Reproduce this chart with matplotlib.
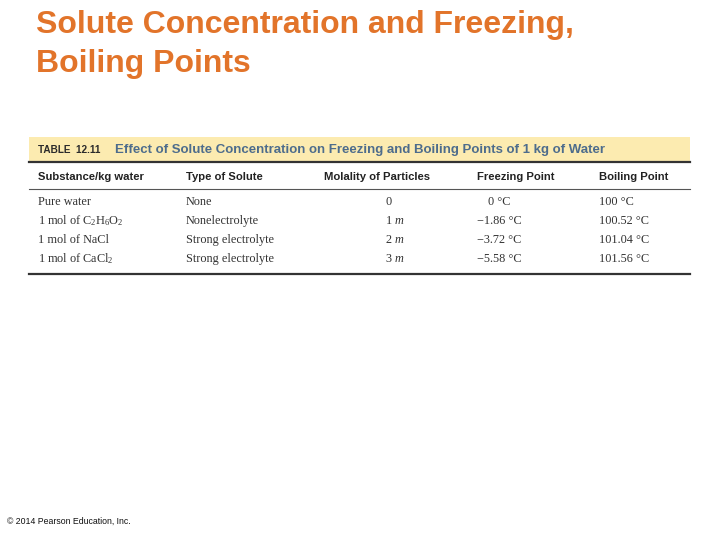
import matplotlib
matplotlib.use("Agg")
import matplotlib.pyplot as plt
from matplotlib.patches import Rectangle
from matplotlib.lines import Line2D

W, H = 720, 540

title_lines = ["Solute Concentration and Freezing,", "Boiling Points"]
table_label = "TABLE  12.11"
table_caption = "Effect of Solute Concentration on Freezing and Boiling Points of 1 kg of Water"
col_headers = ["Substance/kg water", "Type of Solute", "Molality of Particles",
               "Freezing Point", "Boiling Point"]
substances = ["Pure water", r"1 mol of C$_2$H$_6$O$_2$", "1 mol of NaCl", r"1 mol of CaCl$_2$"]
solute_types = ["None", "Nonelectrolyte", "Strong electrolyte", "Strong electrolyte"]
particles = [0, 1, 2, 3]
freezing = [0, -1.86, -3.72, -5.58]
boiling = [100, 100.52, 101.04, 101.56]
footer = "© 2014 Pearson Education, Inc."

plt.rcParams['mathtext.fontset'] = 'custom'
plt.rcParams['mathtext.rm'] = 'Liberation Serif'
plt.rcParams['mathtext.it'] = 'Liberation Serif:italic'

fig = plt.figure(figsize=(7.2, 5.4), dpi=100)
ax = fig.add_axes([0, 0, 1, 1])
ax.set_xlim(0, W)
ax.set_ylim(H, 0)
ax.axis('off')

orange = "#E2742A"
blue = "#4D6C8C"
sans = ['Liberation Sans', 'DejaVu Sans']
serif = ['Liberation Serif', 'DejaVu Serif']

# title
for i, line in enumerate(title_lines):
    ax.text(36, 33 + i * 39, line, fontsize=23, fontweight='bold', color=orange,
            family=sans, va='baseline', ha='left')

# caption band
ax.add_patch(Rectangle((29, 137), 661, 24, facecolor="#FCEBB0", edgecolor='none'))
ax.text(38, 153, table_label, fontsize=7.2, fontweight='bold', color="#2B2B2B",
        family=sans, va='baseline')
ax.text(115, 153.5, table_caption, fontsize=9.5, fontweight='bold', color=blue,
        family=sans, va='baseline')

ax.add_line(Line2D([29, 690], [162, 162], color="#333333", lw=1.6))
ax.add_line(Line2D([29, 690], [189, 189], color="#555555", lw=0.8))
ax.add_line(Line2D([29, 690], [274, 274], color="#333333", lw=1.6))

col_x = [38, 186, 324, 477, 599]
for x, h in zip(col_x, col_headers):
    ax.text(x, 179.5, h, fontsize=8.1, fontweight='bold', color="#222222",
            family=sans, va='baseline')

row_y = [205, 224, 243, 262]
for y, sub, typ, p, fp, bp in zip(row_y, substances, solute_types, particles, freezing, boiling):
    kw = dict(fontsize=8.8, color="#333333", family=serif, va='baseline')
    ax.text(col_x[0], y, sub, **kw)
    ax.text(col_x[1], y, typ, **kw)
    ax.text(385, y, "0" if p == 0 else "%d $m$" % p, **kw)
    fs = "0 °C" if fp == 0 else "\u2212%.2f °C" % abs(fp)
    ax.text(488 if fp == 0 else col_x[3], y, fs, **kw)
    bs = "%g °C" % bp if bp == 100 else "%.2f °C" % bp
    ax.text(col_x[4], y, bs, **kw)

ax.text(7, 524, footer, fontsize=6.3, color="#111111", family=sans, va='baseline')

fig.savefig("out.png", dpi=100, facecolor='white')
